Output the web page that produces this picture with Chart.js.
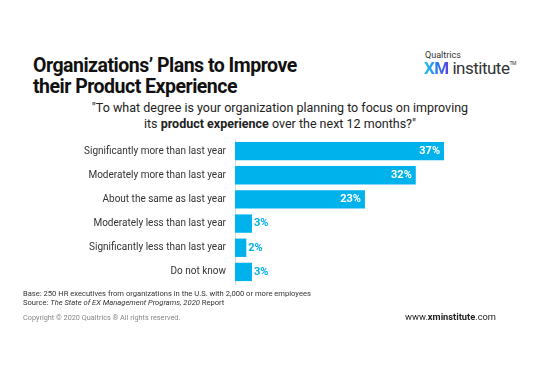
<!DOCTYPE html>
<html>
<head>
<meta charset="utf-8">
<script src="https://cdn.jsdelivr.net/npm/chart.js@4.4.1/dist/chart.umd.min.js"></script>
<style>
  html, body { margin: 0; padding: 0; background: #fff; }
  body { width: 540px; height: 373px; position: relative; overflow: hidden; font-family: Roboto, "Liberation Sans", sans-serif; color: #222; }
  .abs { position: absolute; white-space: nowrap; }
  #title { left: 33px; top: 55px; font-size: 19.5px; font-weight: 700; line-height: 21px; color: #111; letter-spacing: -0.5px; }
  #logo1 { left: 425px; top: 50px; font-size: 9px; color: #333; }
  #logo2 { left: 424px; top: 58px; font-size: 17px; color: #333; letter-spacing: -0.5px; }
  #logo2 b { font-weight: 700; background: linear-gradient(90deg, #1ec8e6, #2a7df0 50%, #5a3fe0); -webkit-background-clip: text; background-clip: text; color: transparent; }
  #logo2 sup { font-size: 5px; vertical-align: 9px; }
  #question { left: 0; width: 560px; top: 100px; text-align: center; font-size: 12.5px; line-height: 16px; color: #222; }
  #wrap { position: absolute; left: 0; top: 124px; width: 470px; height: 175px; }
  .foot { left: 23px; font-size: 7.6px; color: #333; }
  #copy { left: 23px; top: 313px; font-size: 7.3px; color: #888; }
  #www { right: 44px; top: 311px; font-size: 9.3px; color: #222; }
</style>
</head>
<body>
<div id="title" class="abs">Organizations’ Plans to Improve<br>their Product Experience</div>
<div id="logo1" class="abs">Qualtrics</div>
<div id="logo2" class="abs"><b>XM</b> institute<sup>TM</sup></div>
<div id="question" class="abs">"To what degree is your organization planning to focus on improving<br>its <b>product experience</b> over the next 12 months?"</div>
<div id="wrap"><canvas id="chart"></canvas></div>
<div class="abs foot" style="top:289px">Base: 250 HR executives from organizations in the U.S. with 2,000 or more employees</div>
<div class="abs foot" style="top:298px">Source: <i>The State of EX Management Programs, 2020</i> Report</div>
<div id="copy" class="abs">Copyright © 2020 Qualtrics ® All rights reserved.</div>
<div id="www" class="abs">www.<b>xminstitute</b>.com</div>
<script>
// ---- dados ----
const categorias = [
  'Significantly more than last year',
  'Moderately more than last year',
  'About the same as last year',
  'Moderately less than last year',
  'Significantly less than last year',
  'Do not know'
];
const valores = [37, 32, 23, 3, 2, 3];

const AZUL = '#00b2ec';

// rótulos de valor: dentro da barra (branco) se grande, fora (azul) se pequena
const rotulosPlugin = {
  id: 'rotulos',
  afterDatasetsDraw(chart) {
    const { ctx } = chart;
    const meta = chart.getDatasetMeta(0);
    ctx.save();
    ctx.font = 'bold 11px Roboto, sans-serif';
    ctx.textBaseline = 'middle';
    meta.data.forEach((bar, i) => {
      const txt = valores[i] + '%';
      if (valores[i] >= 10) {
        ctx.fillStyle = '#fff';
        ctx.textAlign = 'right';
        ctx.fillText(txt, bar.x - 4, bar.y);
      } else {
        ctx.fillStyle = AZUL;
        ctx.textAlign = 'left';
        ctx.fillText(txt, bar.x + 2, bar.y);
      }
    });
    ctx.restore();
  }
};

new Chart(document.getElementById('chart'), {
  type: 'bar',
  data: {
    labels: categorias,
    datasets: [{
      data: valores,
      backgroundColor: AZUL,
      borderWidth: 0,
      barPercentage: 0.76,
      categoryPercentage: 1
    }]
  },
  options: {
    indexAxis: 'y',
    responsive: true,
    maintainAspectRatio: false,
    animation: false,
    layout: { padding: { top: 4, bottom: 4, right: 0, left: 0 } },
    plugins: { legend: { display: false }, tooltip: { enabled: false } },
    scales: {
      x: { display: false, min: 0, max: 41.6 },
      y: {
        grid: { display: false, drawTicks: false },
        border: { display: true, color: '#d8d8d8' },
        ticks: { color: '#333', padding: 9, font: { family: 'Roboto', size: 10 } },
        afterFit: (scale) => { scale.width = 235; }
      }
    }
  },
  plugins: [rotulosPlugin]
});
</script>
</body>
</html>
